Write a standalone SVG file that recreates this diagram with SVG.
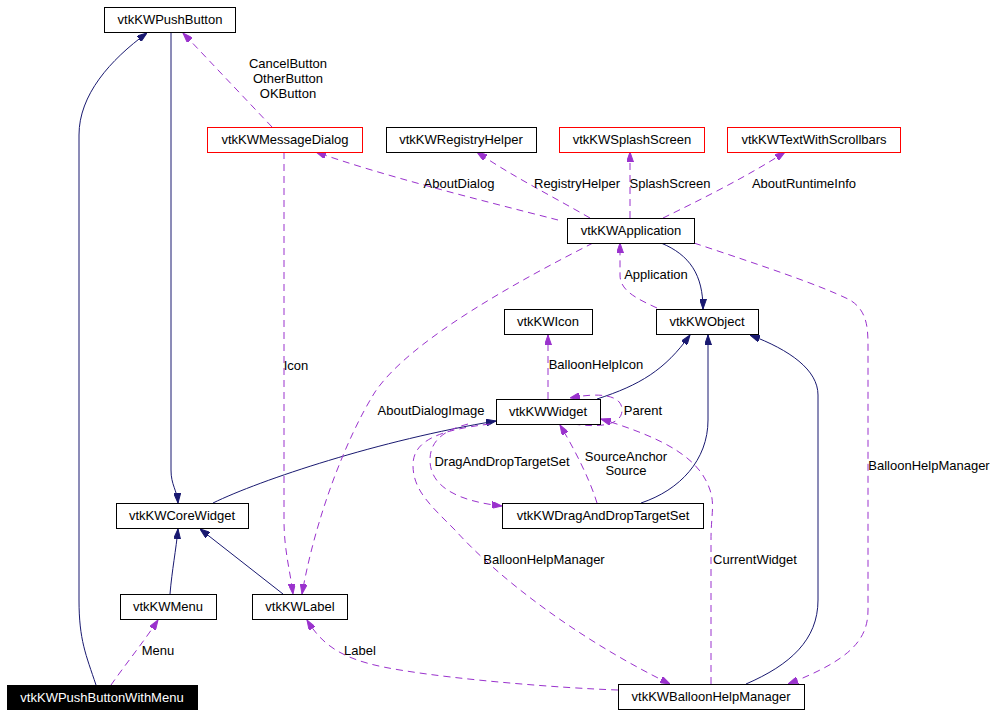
<svg xmlns="http://www.w3.org/2000/svg" width="999" height="715" viewBox="0 0 999 715">
<style>
  text { font-family: "Liberation Sans", Arial, sans-serif; font-size: 13px; fill: #000; }
  .n text { text-anchor: middle; }
  .lbl { text-anchor: middle; }
  .box { fill: #fff; stroke: #000; stroke-width: 1; }
  .red { fill: #fff; stroke: #ff0000; stroke-width: 1; }
  .blk { fill: #000; stroke: #000; stroke-width: 1; }
  .inh { fill: none; stroke: #191970; stroke-width: 1; marker-end: url(#ah); }
  .use { fill: none; stroke: #9a32cd; stroke-width: 1; stroke-dasharray: 7,5; marker-end: url(#ap); }
</style>
<defs>
  <marker id="ah" viewBox="0 0 10 7" refX="10" refY="3.5" markerWidth="10" markerHeight="7" markerUnits="userSpaceOnUse" orient="auto">
    <path d="M0,0 L10,3.5 L0,7 z" fill="#191970" stroke="#191970"/>
  </marker>
  <marker id="ap" viewBox="0 0 10 7" refX="10" refY="3.5" markerWidth="10" markerHeight="7" markerUnits="userSpaceOnUse" orient="auto">
    <path d="M0,0 L10,3.5 L0,7 z" fill="#9a32cd" stroke="#9a32cd"/>
  </marker>
</defs>
<rect width="999" height="715" fill="#fff"/>

<g id="edges">
  <path class="inh" d="M96,685 C86,655 79,640 79,600 L79,135 C79,95 110,60 147,33"/>
  <path class="inh" d="M171,33 L171,470 C171,485 177,490 178,503"/>
  <path class="inh" d="M170,594 C172,570 176,550 178,529"/>
  <path class="inh" d="M283,594 L200,529"/>
  <path class="inh" d="M213,503 C260,480 380,440 496,421"/>
  <path class="inh" d="M597,399 C640,385 665,370 690,335"/>
  <path class="inh" d="M641,503 C680,490 708,460 708,420 L708,335"/>
  <path class="inh" d="M746,684 C790,665 818,640 818,600 L818,395 C818,370 790,350 750,335"/>
  <path class="inh" d="M661,243 C690,255 703,275 703,309"/>

  <path class="use" d="M272,127 L183,33"/>
  <path class="use" d="M558,220 C480,200 380,175 316,152"/>
  <path class="use" d="M590,218 C550,195 510,175 477,152"/>
  <path class="use" d="M630,218 L630,152"/>
  <path class="use" d="M663,218 C700,200 750,175 785,152"/>
  <path class="use" d="M593,243 C520,280 410,340 375,392 C345,440 315,520 302,594"/>
  <path class="use" d="M284,152 L284,520 C284,550 290,570 293,594"/>
  <path class="use" d="M694,243 C760,265 820,285 850,300 C866,310 868,325 868,345 L868,610 C868,640 850,660 788,684"/>
  <path class="use" d="M548,399 L548,335"/>
  <path class="use" d="M657,308 C635,298 620,290 620,275 L620,243"/>
  <path class="use" d="M573,424 C600,428 622,425 622,410 C622,395 600,392 570,398"/>
  <path class="use" d="M468,424 C445,430 430,440 430,460 C430,490 465,502 502,506"/>
  <path class="use" d="M490,424 C440,430 413,440 413,465 C413,490 430,505 455,530 C500,580 580,640 670,684"/>
  <path class="use" d="M597,503 C590,480 575,450 560,425"/>
  <path class="use" d="M711,684 L711,540 C711,515 715,505 710,490 C700,460 670,440 601,419"/>
  <path class="use" d="M618,690 C560,688 460,680 400,670 C350,662 325,650 307,620"/>
  <path class="use" d="M111,685 C125,665 145,640 158,620"/>

  <text class="lbl" x="288" y="68">CancelButton</text>
  <text class="lbl" x="288" y="83">OtherButton</text>
  <text class="lbl" x="288" y="98">OKButton</text>
  <text class="lbl" x="459" y="188">AboutDialog</text>
  <text class="lbl" x="577" y="188">RegistryHelper</text>
  <text class="lbl" x="670" y="188">SplashScreen</text>
  <text class="lbl" x="804" y="188">AboutRuntimeInfo</text>
  <text class="lbl" x="656" y="279">Application</text>
  <text class="lbl" x="596" y="369">BalloonHelpIcon</text>
  <text class="lbl" x="296" y="370">Icon</text>
  <text class="lbl" x="431" y="415">AboutDialogImage</text>
  <text class="lbl" x="643" y="415">Parent</text>
  <text class="lbl" x="502" y="466">DragAndDropTargetSet</text>
  <text class="lbl" x="626" y="461">SourceAnchor</text>
  <text class="lbl" x="626" y="475">Source</text>
  <text class="lbl" x="929" y="470">BalloonHelpManager</text>
  <text class="lbl" x="544" y="564">BalloonHelpManager</text>
  <text class="lbl" x="755" y="564">CurrentWidget</text>
  <text class="lbl" x="360" y="655">Label</text>
  <text class="lbl" x="158" y="655">Menu</text>
</g>

<g id="vtkKWPushButton" class="n"><rect class="box" x="104.5" y="7.5" width="131" height="25"/><text x="170" y="24">vtkKWPushButton</text></g>
<g id="vtkKWMessageDialog" class="n"><rect class="red" x="207.5" y="127.5" width="155" height="25"/><text x="285" y="144">vtkKWMessageDialog</text></g>
<g id="vtkKWRegistryHelper" class="n"><rect class="box" x="386.5" y="127.5" width="150" height="25"/><text x="461" y="144">vtkKWRegistryHelper</text></g>
<g id="vtkKWSplashScreen" class="n"><rect class="red" x="559.5" y="127.5" width="145" height="25"/><text x="632" y="144">vtkKWSplashScreen</text></g>
<g id="vtkKWTextWithScrollbars" class="n"><rect class="red" x="727.5" y="127.5" width="173" height="25"/><text x="814" y="144">vtkKWTextWithScrollbars</text></g>
<g id="vtkKWApplication" class="n"><rect class="box" x="567.5" y="218.5" width="127" height="25"/><text x="631" y="235">vtkKWApplication</text></g>
<g id="vtkKWIcon" class="n"><rect class="box" x="504.5" y="309.5" width="88" height="25"/><text x="548" y="326">vtkKWIcon</text></g>
<g id="vtkKWObject" class="n"><rect class="box" x="656.5" y="309.5" width="102" height="25"/><text x="707" y="326">vtkKWObject</text></g>
<g id="vtkKWWidget" class="n"><rect class="box" x="496.5" y="399.5" width="104" height="25"/><text x="548" y="416">vtkKWWidget</text></g>
<g id="vtkKWDragAndDropTargetSet" class="n"><rect class="box" x="502.5" y="503.5" width="201" height="25"/><text x="603" y="520">vtkKWDragAndDropTargetSet</text></g>
<g id="vtkKWCoreWidget" class="n"><rect class="box" x="116.5" y="503.5" width="132" height="25"/><text x="182" y="520">vtkKWCoreWidget</text></g>
<g id="vtkKWMenu" class="n"><rect class="box" x="120.5" y="594.5" width="96" height="25"/><text x="168" y="611">vtkKWMenu</text></g>
<g id="vtkKWLabel" class="n"><rect class="box" x="252.5" y="594.5" width="95" height="25"/><text x="300" y="611">vtkKWLabel</text></g>
<g id="vtkKWPushButtonWithMenu" class="n"><rect class="blk" x="7.5" y="685.5" width="190" height="24"/><text x="102" y="702" style="fill:#fff">vtkKWPushButtonWithMenu</text></g>
<g id="vtkKWBalloonHelpManager" class="n"><rect class="box" x="618.5" y="684.5" width="186" height="25"/><text x="711" y="701">vtkKWBalloonHelpManager</text></g>
</svg>
